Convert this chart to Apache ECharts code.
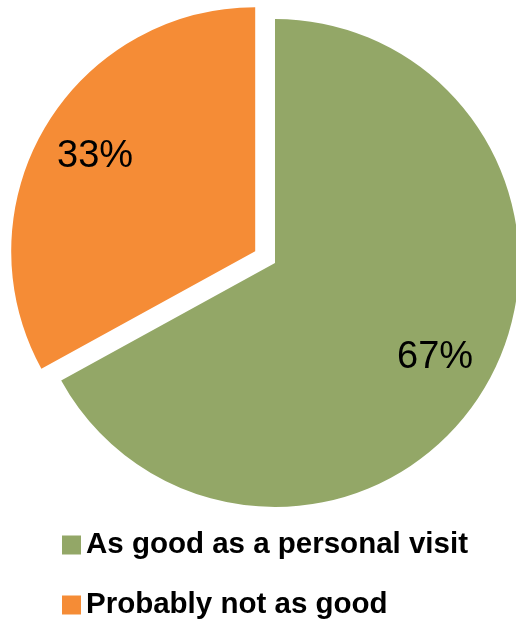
<!DOCTYPE html>
<html>
<head>
<meta charset="utf-8">
<script src="https://cdn.jsdelivr.net/npm/echarts@6/dist/echarts.min.js"></script>
<style>
  html, body { margin: 0; padding: 0; background: #ffffff; }
  #chart { width: 516px; height: 621px; }
</style>
</head>
<body>
<div id="chart"></div>
<script>
// Survey answers and their shares (percent)
const categories = ['As good as a personal visit', 'Probably not as good'];
const shares = [67, 33];
const colors = ['#93a767', '#f58c36'];
// The smaller slice is pulled out of the pie
const explodedIndex = 1;

const chart = echarts.init(document.getElementById('chart'), null, { renderer: 'canvas' });

const CENTER = [275, 263];
const R = 244;
const OFFSET = 23;
const FONT = '"Liberation Sans", Arial, sans-serif';

function buildData(withColor) {
  return categories.map((name, i) => ({
    name: name,
    value: shares[i],
    selected: i === explodedIndex,
    itemStyle: withColor ? { color: colors[i] } : { color: 'rgba(0,0,0,0)' }
  }));
}

chart.setOption({
  animation: false,
  color: colors,
  legend: {
    orient: 'vertical',
    left: 62,
    top: 530,
    height: 91,
    padding: 0,
    itemWidth: 19,
    itemHeight: 19,
    itemGap: 30,
    icon: 'rect',
    selectedMode: false,
    data: categories,
    textStyle: {
      fontFamily: FONT,
      fontSize: 29.5,
      fontWeight: 'bold',
      color: '#000000',
      lineHeight: 30
    }
  },
  series: [
    {
      // Filled slices
      type: 'pie',
      name: 'share',
      center: CENTER,
      radius: R,
      startAngle: 90,
      clockwise: true,
      selectedMode: 'single',
      selectedOffset: OFFSET,
      silent: true,
      label: { show: false },
      labelLine: { show: false },
      emphasis: { disabled: true },
      data: buildData(true)
    },
    {
      // Percentage labels placed toward the outer part of each slice
      type: 'pie',
      name: 'labels',
      center: CENTER,
      radius: [R / 2, R],
      startAngle: 90,
      clockwise: true,
      selectedMode: 'single',
      selectedOffset: OFFSET,
      silent: true,
      legendHoverLink: false,
      label: {
        show: true,
        position: 'inside',
        formatter: p => p.value + '%',
        fontFamily: FONT,
        fontSize: 38,
        color: '#000000'
      },
      labelLine: { show: false },
      emphasis: { disabled: true },
      data: buildData(false)
    }
  ]
});
</script>
</body>
</html>
